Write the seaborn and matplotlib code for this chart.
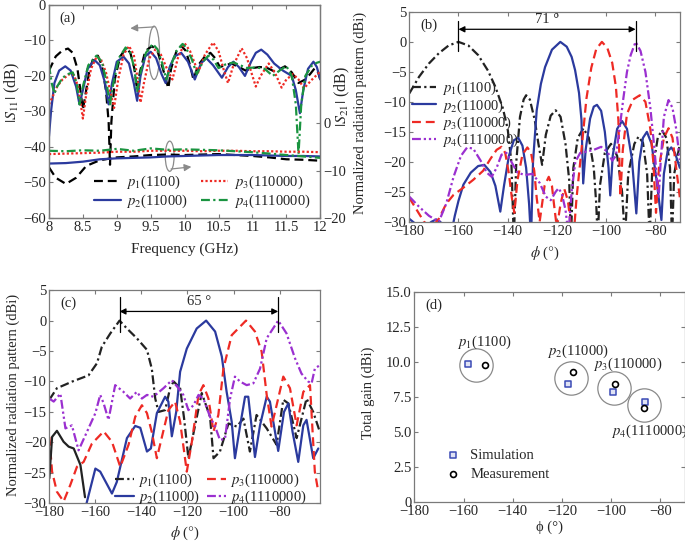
import matplotlib
matplotlib.use('Agg')
import matplotlib.pyplot as plt
import seaborn as sns
import numpy as np
from matplotlib.patches import Ellipse

sns.set_style('ticks')
plt.rcParams['font.family'] = ['Liberation Serif', 'DejaVu Serif']
plt.rcParams['mathtext.fontset'] = 'stix'
plt.rcParams['font.size'] = 10.5

names = [r'$p_1$(1100)', r'$p_2$(11000)', r'$p_3$(110000)', r'$p_4$(1110000)']

# ---------------- (a) |S11| and |S21| vs frequency ----------------
f1 = [8.0, 8.05, 8.1, 8.2, 8.28, 8.35, 8.42, 8.47, 8.5, 8.54, 8.6, 8.66, 8.72, 8.78, 8.84, 8.88, 8.9, 8.92,
      8.97, 9.05, 9.14, 9.2, 9.26, 9.3, 9.34, 9.42, 9.52, 9.6, 9.68, 9.76, 9.8, 9.88, 9.95, 10.02, 10.08, 10.13,
      10.2, 10.3, 10.38, 10.45, 10.52, 10.6, 10.69, 10.8, 10.9, 11.0, 11.1, 11.2, 11.33, 11.48, 11.58, 11.68,
      11.78, 11.85, 11.92, 11.97, 12.0]
s11_p1 = [-18.5, -16.5, -14.5, -12.8, -12.3, -13.5, -18, -25, -29.5, -25, -18, -14.8, -14.3, -17, -24, -33, -45, -33,
          -21, -14.5, -12.2, -13.5, -18, -24, -19, -13, -11.6, -13, -18, -23.5, -18, -13, -11.5, -13, -17, -21,
          -17, -14.5, -13.5, -15, -17.5, -17, -16.5, -17.5, -18.5, -17.8, -17.5, -17.6, -18.8, -17.3, -19, -22,
          -21, -19.5, -17.8, -19, -21]

f2 = [8.0, 8.03, 8.08, 8.15, 8.24, 8.32, 8.4, 8.45, 8.5, 8.57, 8.67, 8.75, 8.82, 8.88, 8.93, 9.0, 9.1, 9.18,
      9.25, 9.3, 9.35, 9.42, 9.5, 9.58, 9.66, 9.72, 9.78, 9.85, 9.95, 10.05, 10.15, 10.24, 10.32, 10.42, 10.55,
      10.64, 10.72, 10.8, 10.89, 10.98, 11.05, 11.13, 11.22, 11.32, 11.45, 11.58, 11.64, 11.7, 11.75, 11.82,
      11.9, 11.95, 12.0]
s11_p2 = [-37, -30, -22, -18.5, -17.3, -18.5, -23, -28, -24, -18, -15.5, -17, -21.5, -28, -22, -16, -14.6, -16.5,
          -22, -27, -20, -14.5, -13.2, -15, -19.5, -22, -17.5, -14.5, -13.5, -16, -21, -16.5, -15, -17, -20.5,
          -17.5, -16, -17.5, -20, -16, -13.5, -12.6, -14, -16.5, -18.5, -20, -24, -30.5, -24, -18,
          -16, -17.5, -21]

f3 = [8.0, 8.05, 8.12, 8.2, 8.3, 8.37, 8.43, 8.5, 8.55, 8.62, 8.7, 8.76, 8.84, 8.9, 8.96, 9.02, 9.1, 9.18,
      9.25, 9.3, 9.35, 9.4, 9.48, 9.57, 9.65, 9.74, 9.82, 9.9, 10.0, 10.08, 10.2, 10.3, 10.42, 10.5, 10.58,
      10.64, 10.72, 10.84, 10.92, 11.0, 11.05, 11.12, 11.24, 11.33, 11.43, 11.5, 11.6, 11.68, 11.76, 11.88, 12.0]
s11_p3 = [-28, -26, -23, -21, -19.5, -19.8, -23, -32, -25, -18, -14.7, -15, -19, -24, -29, -21, -14, -11.6,
          -14, -20, -27.5, -22, -15, -12.5, -14, -18, -21, -15, -10.8, -13, -19, -14, -10.6, -13, -18.5,
          -22, -17, -12.2, -15, -20, -23, -20, -16.5, -19, -23.3, -21, -19.5, -21, -23.5, -21, -18.8]

f4 = [8.0, 8.04, 8.08, 8.12, 8.2, 8.28, 8.35, 8.41, 8.45, 8.5, 8.58, 8.7, 8.78, 8.84, 8.9, 8.95, 9.03, 9.13,
      9.2, 9.26, 9.3, 9.35, 9.43, 9.53, 9.6, 9.67, 9.73, 9.8, 9.88, 9.97, 10.0, 10.1, 10.18, 10.27, 10.35,
      10.43, 10.5, 10.6, 10.72, 10.82, 10.92, 11.05, 11.18, 11.3, 11.4, 11.5, 11.58, 11.64, 11.68, 11.72,
      11.78, 11.88, 11.95, 12.0]
s11_p4 = [-17, -22, -25, -23, -20.5, -19.5, -19, -22, -28, -23, -17, -14.3, -16, -21, -28, -22, -15, -12,
          -13.5, -18, -24.5, -19, -13.5, -11, -12.5, -16.5, -21, -17, -13, -11, -11.5, -15, -19.5, -16, -14.3,
          -15.5, -17.8, -16.8, -16.2, -17, -17.8, -17.6, -18, -20, -18.5, -17.2, -20, -28, -42, -28,
          -20, -17, -16.3, -16]

f21 = [8.0, 8.25, 8.5, 8.75, 9.0, 9.25, 9.5, 9.75, 10.0, 10.25, 10.5, 10.75, 11.0, 11.25, 11.5, 11.75, 12.0]
s21_p2 = [-8.5, -8.4, -8.1, -7.6, -7.4, -7.3, -7.2, -7.0, -6.9, -6.8, -6.7, -6.7, -6.7, -6.8, -6.9, -6.9, -7.0]
s21_p3 = [-6.5, -6.4, -6.3, -6.2, -6.0, -6.0, -5.8, -5.8, -5.8, -5.9, -5.8, -5.8, -5.9, -5.9, -6.0, -6.0, -6.1]
s21_p4 = [-5.8, -5.9, -5.7, -5.8, -5.4, -5.8, -5.3, -5.6, -5.5, -5.6, -5.7, -5.9, -6.1, -6.4, -6.7, -7.0, -7.3]
f21_p1 = [8.0, 8.1, 8.25, 8.4, 8.55, 8.75, 9.0, 9.25, 9.5, 9.75, 10.0, 10.25, 10.5, 10.75, 11.0, 11.25,
          11.5, 11.75, 12.0]
s21_p1 = [-9.3, -11.5, -12.8, -11.5, -9.0, -7.8, -7.2, -7.0, -6.7, -6.6, -6.7, -6.6, -6.5, -6.7, -6.9, -7.2,
          -7.6, -7.7, -7.9]

# ---------------- (b) simulated radiation patterns ----------------
phi_b1 = [-180, -176, -172, -168, -164, -160, -156, -152, -148, -145, -142, -140, -138.5, -137.5, -136.5, -135,
          -133.5, -132.5, -131, -129, -127.5, -126, -124.5, -122.5, -120.5, -118.5, -116.5, -115, -114.3, -113.3,
          -111.5, -109.2, -107, -105, -104, -103.4, -102.5, -100.5, -98, -95.5, -93.5, -92.3, -91, -88.5, -86.8,
          -85, -83.3, -82.3, -81.3, -79, -77.3, -75.5, -74, -73.2, -72.3, -70]
pat_b1 = [-8.6, -5.8, -3.6, -1.9, -0.6, 0, -0.6, -2.2, -4.8, -7.5, -11, -14.5, -20, -33, -20, -12.5,
          -9.6, -8.9, -9.6, -13, -17, -20.5, -15.5, -12.3, -11.4, -12.5, -17, -23, -33, -21,
          -16, -14.4, -16, -21, -27, -33, -24, -18.5, -17, -19, -25, -33, -22, -17, -15.8,
          -16.8, -22, -33, -22, -16, -14.7, -16, -21, -33, -22, -17]
phi_b2 = [-180, -177, -174, -171, -169, -166.5, -163, -161.5, -160, -158, -155, -152, -149.5, -147, -145, -143,
          -141.5, -139.5, -137.5, -135.7, -134, -132.5, -131.3, -130.5, -129.7, -128.2, -126.5, -124.8, -122,
          -118.6, -116, -114, -112.6, -111, -110, -109.3, -108.3, -106.5, -105, -103.7, -102, -100.5, -99, -98.3,
          -97.3, -95.5, -93.5, -91.5, -89.5, -87.7, -86.5, -85, -83.4, -81.5, -79.5, -77.5, -76.5, -75, -73.5,
          -72, -70]
pat_b2 = [-29.5, -30.5, -31, -30, -29.6, -30.3, -32, -29, -26.5, -23.8, -21.8, -20.7, -20.5, -21.7, -24, -28.3,
          -24, -19, -16.4, -16, -17.3, -21, -27, -33, -20, -11.4, -7, -4.2, -1.3,
          0, -0.8, -2.5, -4.7, -8.5, -13, -23.6, -18, -12.8, -10.8, -10.5, -11.5, -15, -21, -25.6,
          -19, -14.5, -13.2, -14.5, -19.5, -28.6, -20, -16, -15, -17, -23, -29.7, -22, -18.3, -17.6,
          -18.5, -21]
phi_b3 = [-180, -177, -174, -171, -168, -165, -162, -158, -154, -150, -147, -144.5, -142.5, -141, -139.5, -138.3,
          -137.3, -136, -134, -132, -130.5, -129.2, -128.2, -127, -125, -123.3, -122, -121.2, -120, -118.5, -117,
          -115.5, -114.5, -113.3, -112, -110, -108, -106, -104, -101.7, -99.5, -97.5, -96, -95, -94.2, -93.2,
          -91.5, -89, -86.3, -84, -82, -80.8, -79.7, -78.5, -76.5, -74.6, -73, -71.5, -70]
pat_b3 = [-26, -28, -30, -31, -29.5, -27, -25.5, -24.3, -23, -21.5, -19.5, -18, -17.5, -18.5, -22, -26,
          -28.5, -23, -18.8, -17.6, -18.5, -21.5, -26, -30, -24, -22.5, -24, -27, -31, -27, -24.5,
          -26.5, -30, -33, -26, -18, -9.5, -4.3, -1.2, 0, -1, -3.5, -7.5, -13, -25.8, -18,
          -12, -9.6, -8.9, -10, -14.5, -20, -28.5, -21, -16, -14.4, -16, -21, -26]
phi_b4 = [-180, -176, -172, -168, -165, -162, -159, -156.5, -154, -151, -148.5, -146.5, -144.5, -142.5, -140.5,
          -138.5, -136, -133, -130, -127, -124.5, -122.5, -120.5, -119.3, -118, -116.5, -115.3, -114, -112.5,
          -110.5, -108, -105, -102, -99.5, -97.5, -96, -94.5, -93, -91.5, -90, -88, -86, -84, -82, -80.3, -79.3,
          -78.6, -77.8, -76.5, -74.6, -73, -71.5, -70]
pat_b4 = [-25.8, -27.5, -29, -30, -27, -22.5, -19, -17.6, -17.8, -19.8, -21.8, -22.5, -21, -18.8, -18.5,
          -20, -21.8, -22.2, -22, -23.5, -25.8, -26.4, -25, -24.4, -25.3, -28, -32, -25, -20,
          -18.5, -18.3, -18, -17.5, -18.3, -19.8, -19, -14.5, -9.5, -5, -2.2, 0, -1.5, -5, -11, -18, -23,
          -25.8, -20, -12.5, -9.7, -11, -14.5, -19.7]

# ---------------- (c) measured radiation patterns ----------------
phi_c1 = [-180, -176.7, -173, -170, -166.5, -163, -159.3, -157.2, -153.5, -149.5, -146.3, -142, -137.6, -135.5,
          -134, -132.6, -129.7, -127.5, -126, -123.2, -121.5, -119.6, -116.7, -113.8, -110.2, -108.7, -105.9,
          -102.2, -98.6, -95.7, -92.9, -90, -85.6, -81.3, -78.4, -76.2, -72.6, -68.3, -65.4, -62.5]
pat_c1 = [-13, -11.1, -10.5, -10, -9.5, -9, -7, -4.3, -2.1, 0, -1.3, -2.9, -4.8, -7.9,
          -12.8, -15, -14.7, -11, -10, -11.1, -16, -22.6, -17.2, -11.9, -15.8, -22.6, -21.5,
          -16.9, -17.4, -16.1, -21.5, -15.5, -17.7, -20.4, -13, -13.6, -19.3, -12.8, -15, -18.3]
phi_c1s = [-180, -178.8, -176.7, -173.8, -171.6, -169.4, -166.5, -164.5]
pat_c1s = [-25.9, -19.1, -18.1, -19.9, -20.7, -21, -23.7, -29]
phi_c2 = [-164.5, -160, -157.9, -152.8, -150.7, -146.3, -142.7, -140.5, -137.6, -135.9, -133.3, -129.7, -128.3,
          -126.8, -124.9, -123.2, -120.3, -116, -111.9, -108, -105.1, -103, -100.8, -99.4, -97.2, -95, -93.6,
          -90.7, -88.5, -85.6, -84.2, -80.6, -78.1, -76.2, -74.4, -71.9, -69.7, -68.3, -65.4, -63.2]
pat_c2 = [-31, -24.3, -24.8, -28.4, -26.5, -19.3, -17.3, -17.6, -21.5, -21, -15.2, -12.5, -13.3,
          -19, -15, -8.4, -4.6, -1.3, 0, -1.8, -5.9, -11.7, -16.6, -22.6, -17.4, -12.5, -12.5,
          -22.4, -17.2, -12.5, -13.3, -21.4, -15, -13.6, -18.2, -23.2, -17.2, -16.3, -22.6, -21]
phi_c3 = [-180, -178.8, -176.7, -173.8, -170.9, -168, -165.1, -161.5, -156.4, -152.8, -149.2, -145.6, -142.7,
          -139.8, -137.6, -135.5, -133.3, -131.1, -128.3, -125.4, -123.2, -120.3, -118.1, -115.2, -113.1, -110.9,
          -108.7, -106.6, -104.4, -100.8, -94.6, -90.7, -87.8, -85.6, -83.5, -81.3, -78.4, -75.5, -72.6, -69.7,
          -66.8, -64.7, -63.2]
pat_c3 = [-19.1, -24.8, -28.1, -29.7, -27, -24, -23.2, -20.2, -18.2, -19.9, -24, -20.4, -15.8,
          -13.9, -15.2, -18.3, -22.6, -19.1, -14.7, -13.3, -16.6, -24.8, -19.9, -12.2, -10.6, -12.8,
          -18.2, -15.5, -7.9, -2.4, 0, -1.8, -5.1, -12.2, -17.4, -13.9, -9.2, -11.1, -17.2, -11.7,
          -10.6, -24.8, -28.1]
phi_c4 = [-180, -178.1, -175.2, -173, -170.2, -167.3, -163.7, -160, -157.9, -156.4, -154.3, -151.4, -147.8,
          -144.9, -142, -139.8, -137.6, -134.8, -130.4, -126.8, -123.9, -121.8, -119.6, -117.4, -115.2, -113.1,
          -110.2, -108, -105.9, -103.7, -101.5, -99.4, -97.2, -94.3, -91.4, -88.5, -85.6, -80.6, -77, -73.3,
          -70.5, -67.6, -66.1, -64.7, -62.5]
pat_c4 = [-12.8, -13.3, -12, -17.7, -17.2, -21.3, -18.3, -15.2, -12.2, -13.6, -16.3, -10.6, -11.7,
          -12.8, -11.7, -12.8, -12.2, -12.5, -11.1, -9.8, -11.1, -12.2, -14.7, -13.9, -12.2, -12.8,
          -15.8, -17.4, -19.6, -19.4, -12.8, -9.2, -10.0, -10.6, -10.3, -7.9, -2.9, 0, -2.1, -6.2,
          -8.7, -10, -10.3, -7.9, -7.3]

# ---------------- (d) total gain ----------------
sim_phi = [-158.2, -117.4, -99.3, -86.4]
sim_gain = [9.83, 8.45, 7.86, 7.14]
meas_phi = [-151.4, -115.6, -98.6, -86.8]
meas_gain = [9.76, 9.26, 8.45, 6.71]

colors_a = ['black', '#2b3a9e', '#ee2a24', '#1a9440']
colors_b = ['#222222', '#2b3a9e', '#ee2a24', '#9b30d0']
dash = (0, (4, 2.2))
dot = (0, (1, 1))
dashdot = (0, (4, 1.5, 1, 1.5))
dashdotdot = (0, (4, 1.3, 1, 1.3, 1, 1.3))
frame_col = '#7a7a7a'
lw = 1.6
fs = 10.5


def style(ax, right=True):
    for s in ax.spines.values():
        s.set_color(frame_col)
        s.set_linewidth(0.9)
    ax.tick_params(direction='in', length=3, color=frame_col, top=True, right=right, labelsize=fs, pad=2)


fig = plt.figure(figsize=(6.85, 5.41), dpi=100)

# (a)
ax = fig.add_axes([0.0715, 0.597, 0.396, 0.394])
ax2 = ax.twinx()
sns.lineplot(x=f1, y=s11_p1, ax=ax, color=colors_a[0], lw=lw, linestyle=dash, label=names[0])
sns.lineplot(x=f2, y=s11_p2, ax=ax, color=colors_a[1], lw=lw, linestyle='-', label=names[1])
sns.lineplot(x=f3, y=s11_p3, ax=ax, color=colors_a[2], lw=lw, linestyle=dot, label=names[2])
sns.lineplot(x=f4, y=s11_p4, ax=ax, color=colors_a[3], lw=lw, linestyle=dashdot, label=names[3])
sns.lineplot(x=f21_p1, y=s21_p1, ax=ax2, color=colors_a[0], lw=lw, linestyle=dash)
sns.lineplot(x=f21, y=s21_p2, ax=ax2, color=colors_a[1], lw=lw, linestyle='-')
sns.lineplot(x=f21, y=s21_p3, ax=ax2, color=colors_a[2], lw=lw, linestyle=dot)
sns.lineplot(x=f21, y=s21_p4, ax=ax2, color=colors_a[3], lw=lw, linestyle=dashdot)
ax.set_xlim(8, 12)
ax.set_ylim(-60, 0)
ax.set_xticks([8, 8.5, 9, 9.5, 10, 10.5, 11, 11.5, 12])
ax.set_xticklabels(['8', '8.5', '9', '9.5', '10', '10.5', '11', '11.5', '12'])
ax.set_yticks(range(-60, 1, 10))
ax2.set_ylim(-20, 25)
ax2.set_yticks([-20, -10, 0])
ax.set_xlabel('Frequency (GHz)', fontsize=11, labelpad=6)
ax.set_ylabel(r'$|S_{11}|$ (dB)', fontsize=11.5)
ax.yaxis.set_label_coords(-0.1, 0.587)
ax2.set_ylabel(r'$|S_{21}|$ (dB)', fontsize=11.5)
ax2.yaxis.set_label_coords(1.046, 0.57)
style(ax, right=False)
style(ax2)
ax2.tick_params(top=False)
ax.text(0.04, 0.97, '(a)', transform=ax.transAxes, va='top', fontsize=fs)
ax.add_patch(Ellipse((9.55, -13.5), 0.16, 15, fill=False, ec='#8a8a8a', lw=0.9))
ax.annotate('', xy=(9.2, -6.6), xytext=(9.55, -6.2),
            arrowprops=dict(arrowstyle='-|>', color='#8a8a8a', lw=0.9, shrinkA=0, shrinkB=0))
ax.add_patch(Ellipse((9.78, -42.6), 0.13, 8.5, fill=False, ec='#8a8a8a', lw=0.9))
ax.annotate('', xy=(10.1, -45.6), xytext=(9.8, -46.2),
            arrowprops=dict(arrowstyle='-|>', color='#8a8a8a', lw=0.9, shrinkA=0, shrinkB=0))
h, l = ax.get_legend_handles_labels()
ax.legend(h, l, ncol=2, loc='lower center', bbox_to_anchor=(0.565, -0.025), frameon=False,
          fontsize=fs, handlelength=1.8, columnspacing=0.9, labelspacing=0.1, handletextpad=0.4)

# (b)
ax = fig.add_axes([0.5975, 0.590, 0.395, 0.388])
pats_b = [(phi_b1, pat_b1), (phi_b2, pat_b2), (phi_b3, pat_b3), (phi_b4, pat_b4)]
styles_b = [dashdot, '-', dash, dashdotdot]
for (x, y), c, ls, n in zip(pats_b, colors_b, styles_b, names):
    sns.lineplot(x=x, y=y, ax=ax, color=c, lw=lw, linestyle=ls, label=n)
ax.set_xlim(-180, -70)
ax.set_ylim(-30, 5)
ax.set_xticks(range(-180, -79, 20))
ax.set_yticks(range(-30, 6, 5))
ax.set_xlabel(r'$\phi$ ($\degree$)', fontsize=fs, labelpad=5)
ax.set_ylabel('Normalized radiation pattern (dBi)', fontsize=fs)
ax.yaxis.set_label_coords(-0.155, 0.52)
style(ax)
ax.text(0.04, 0.97, '(b)', transform=ax.transAxes, va='top', fontsize=fs)
x0 = phi_b1[int(np.argmax(pat_b1))]
x1 = phi_b4[int(np.argmax(pat_b4))]
for xv in (x0, x1):
    ax.plot([xv, xv], [-1.5, 3.4], color='black', lw=0.9)
ax.annotate('', xy=(x1, 2.1), xytext=(x0, 2.1),
            arrowprops=dict(arrowstyle='<|-|>', color='black', lw=0.9, shrinkA=0, shrinkB=0, mutation_scale=9))
ax.text((x0 + x1) / 2, 2.6, '71 °', ha='center', va='bottom', fontsize=fs)
h, l = ax.get_legend_handles_labels()
ax.legend(h, l, loc='center left', bbox_to_anchor=(-0.01, 0.51), frameon=False, fontsize=fs,
          handlelength=1.6, labelspacing=0.0, handletextpad=0.4, borderaxespad=0)

# (c)
ax = fig.add_axes([0.072, 0.0697, 0.395, 0.394])
pats_c = [(phi_c1, pat_c1), (phi_c2, pat_c2), (phi_c3, pat_c3), (phi_c4, pat_c4)]
for (x, y), c, ls, n in zip(pats_c, colors_b, styles_b, names):
    sns.lineplot(x=x, y=y, ax=ax, color=c, lw=lw, linestyle=ls, label=n)
sns.lineplot(x=phi_c1s, y=pat_c1s, ax=ax, color=colors_b[0], lw=lw, linestyle='-')
ax.set_xlim(-180, -62.5)
ax.set_ylim(-30, 5)
ax.set_xticks(range(-180, -79, 20))
ax.set_yticks(range(-30, 6, 5))
ax.set_xlabel(r'$\phi$ ($\degree$)', fontsize=fs, labelpad=4)
ax.set_ylabel('Normalized radiation pattern (dBi)', fontsize=fs)
ax.yaxis.set_label_coords(-0.11, 0.51)
style(ax)
ax.text(0.04, 0.97, '(c)', transform=ax.transAxes, va='top', fontsize=fs)
x0 = phi_c1[int(np.argmax(pat_c1))]
x1 = phi_c4[int(np.argmax(pat_c4))]
for xv in (x0, x1):
    ax.plot([xv, xv], [-1.8, 3.9], color='black', lw=0.9)
ax.annotate('', xy=(x1, 1.5), xytext=(x0, 1.5),
            arrowprops=dict(arrowstyle='<|-|>', color='black', lw=0.9, shrinkA=0, shrinkB=0, mutation_scale=9))
ax.text((x0 + x1) / 2, 2.0, '65 °', ha='center', va='bottom', fontsize=fs)
h, l = ax.get_legend_handles_labels()
ax.legend(h[:4], l[:4], ncol=2, loc='lower right', bbox_to_anchor=(1.0, -0.075), frameon=False, fontsize=fs,
          handlelength=1.3, columnspacing=0.45, labelspacing=0.0, handletextpad=0.3)

# (d)
ax = fig.add_axes([0.605, 0.0715, 0.395, 0.389])
sns.scatterplot(x=sim_phi, y=sim_gain, ax=ax, marker='s', s=16, color='#dfe2f4', edgecolor='#3a4ab5',
                linewidth=1.1, label='Simulation', zorder=3)
sns.scatterplot(x=meas_phi, y=meas_gain, ax=ax, marker='o', s=18, color='white', edgecolor='black',
                linewidth=1.2, label='Measurement', zorder=3)
cx = [(a + b) / 2 for a, b in zip(sim_phi, meas_phi)]
cy = [(a + b) / 2 for a, b in zip(sim_gain, meas_gain)]
ax.plot(cx, cy, linestyle='none', marker='o', ms=24, mfc='none', mec='#8a8a8a', mew=0.9)
dx = [3.4, 3.0, 5.5, 2.2]
dy = [1.6, 1.9, 1.65, -1.85]
for x, y, ox, oy, n in zip(cx, cy, dx, dy, names):
    ax.text(x + ox, y + oy, n, ha='center', va='center', fontsize=fs)
ax.set_xlim(-180, -70)
ax.set_ylim(0, 15)
ax.set_xticks(range(-180, -79, 20))
ax.set_yticks([0, 2.5, 5, 7.5, 10, 12.5, 15])
ax.set_yticklabels(['0', '2.5', '5.0', '7.5', '10.0', '12.5', '15.0'])
ax.set_xlabel('ϕ (°)', fontsize=fs, labelpad=2)
ax.set_ylabel('Total gain (dBi)', fontsize=fs)
ax.yaxis.set_label_coords(-0.145, 0.52)
style(ax)
ax.text(0.04, 0.97, '(d)', transform=ax.transAxes, va='top', fontsize=fs)
ax.legend(loc='lower left', bbox_to_anchor=(0.04, 0.04), frameon=False, fontsize=fs,
          handletextpad=0.2, labelspacing=0.4, markerscale=1.0)

fig.savefig('out.png', dpi=100)
